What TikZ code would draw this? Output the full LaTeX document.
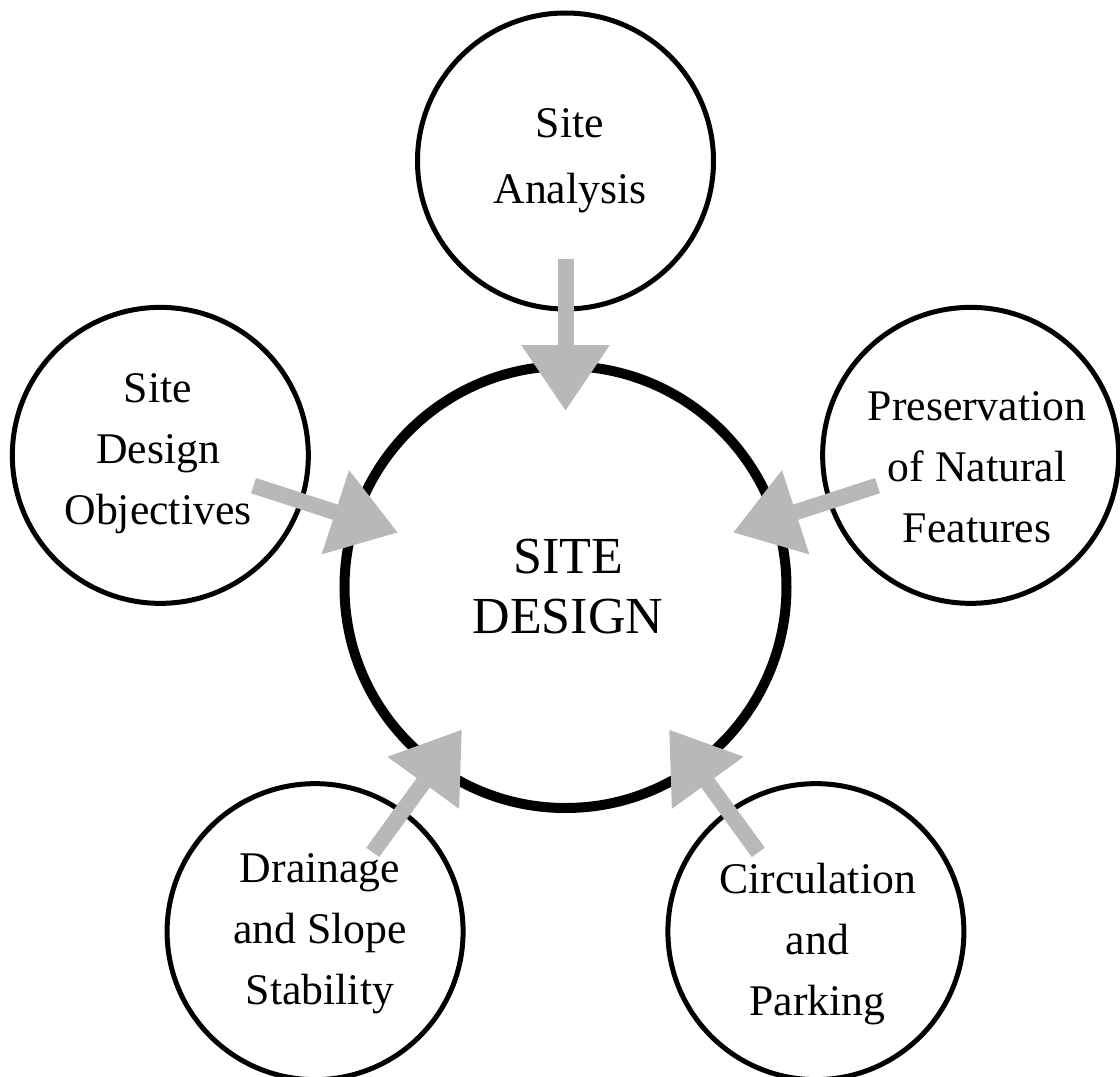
\documentclass[tikz,border=0pt]{standalone}
\usepackage{fontspec}
\setmainfont{Liberation Serif}
\usetikzlibrary{arrows.meta}
\definecolor{arrowgray}{RGB}{184,184,184}
\begin{document}
\begin{tikzpicture}[x=0.75pt,y=0.75pt,
  outercirc/.style={circle,draw=black,line width=3.75pt,minimum size=222pt,inner sep=0pt},
  centercirc/.style={circle,draw=black,line width=7.5pt,minimum size=331.5pt,inner sep=0pt},
  fatarrow/.style={draw=arrowgray,line width=12pt,-{Triangle[length=49.5pt,width=63pt]},shorten <=73.5pt,shorten >=132pt},
  lbl/.style={anchor=base,inner sep=0pt,font=\fontsize{32.8}{46.1}\selectfont},
  lblwide/.style={anchor=base,inner sep=0pt,font=\fontsize{32.8}{49.5}\selectfont},
  lblbig/.style={anchor=base,inner sep=0pt,font=\fontsize{39}{45}\selectfont},
]
\useasboundingbox (-565.5,587) rectangle (554.5,-489);
% circles
\node[centercirc] (sd) at (0,0) {};
\node[outercirc] (sa) at (90:426) {};
\node[outercirc] (sdo) at (162:426) {};
\node[outercirc] (dss) at (234:426) {};
\node[outercirc] (cp) at (306:426) {};
\node[outercirc] (pnf) at (18:426) {};
% arrows
\draw[fatarrow] (sa.center) -- (sd.center);
\draw[fatarrow] (sdo.center) -- (sd.center);
\draw[fatarrow] (dss.center) -- (sd.center);
\draw[fatarrow] (cp.center) -- (sd.center);
\draw[fatarrow] (pnf.center) -- (sd.center);
% labels
\node[lblbig] (sdt) at (2.5,14) {\begin{tabular}[t]{@{}c@{}}SITE\\DESIGN\end{tabular}};
\node[lblwide] (sat) at (4.5,450) {\begin{tabular}[t]{@{}c@{}}Site\\Analysis\end{tabular}};
\node[lbl] (sdot) at (-407.5,185) {\begin{tabular}[t]{@{}c@{}}Site\\Design\\Objectives\end{tabular}};
\node[lbl] (pnft) at (411.5,167) {\begin{tabular}[t]{@{}c@{}}Preservation\\of Natural\\Features\end{tabular}};
\node[lbl] (dsst) at (-245.5,-295) {\begin{tabular}[t]{@{}c@{}}Drainage\\and Slope\\Stability\end{tabular}};
\node[lbl] (cpt) at (252,-306) {\begin{tabular}[t]{@{}c@{}}Circulation\\and\\Parking\end{tabular}};
\end{tikzpicture}
\end{document}
